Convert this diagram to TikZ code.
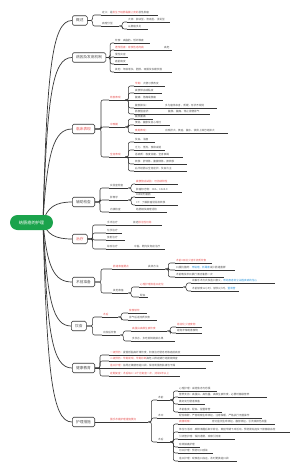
\documentclass[tikz,border=0pt]{standalone}
\usepackage{fontspec}
\setmainfont{Noto Sans CJK SC}
\usetikzlibrary{backgrounds}

\definecolor{rootgreen}{RGB}{27,163,76}
\definecolor{mapred}{RGB}{232,84,84}
\definecolor{mapblue}{RGB}{45,150,220}
\definecolor{linegray}{RGB}{55,55,55}
\definecolor{textgray}{RGB}{85,85,85}

\newcommand{\rootfont}{\fontsize{4.2}{5}\selectfont}
\newcommand{\topicfont}{\fontsize{3.7}{4.5}\selectfont}
\newcommand{\leaffont}{\fontsize{2.6}{3.1}\selectfont}
\newcommand{\redtxt}[1]{\textcolor{mapred}{#1}}
\newcommand{\bluetxt}[1]{\textcolor{mapblue}{#1}}

\begin{document}
\begin{tikzpicture}[x=1pt, y=-1pt,
    rootnode/.style={fill=rootgreen, text=white, rounded corners=7.5pt, minimum width=43pt, minimum height=15pt, inner sep=0pt, font=\rootfont},
    topic/.style={draw=linegray, fill=white, text=textgray, line width=0.6pt, rounded corners=1.5pt, anchor=west, minimum height=9.5pt, inner xsep=3.8pt, inner ysep=0pt, font=\topicfont},
    uline/.style={draw=linegray, line width=0.55pt},
    leaf/.style={anchor=south west, align=left, text=textgray, inner xsep=1pt, inner ysep=0.6pt, font=\leaffont,
        append after command={(\tikzlastnode.south west) edge[uline] (\tikzlastnode.south east)}},
    twig/.style={draw=linegray, line width=0.55pt, rounded corners=2pt},
    trunk/.style={draw=linegray, line width=0.7pt}]
    \useasboundingbox (0,0) rectangle (300,472);

    % Root
    \node[rootnode] (root) at (31.5,222.5) {结肠癌的护理};
    \coordinate (hub) at (43,222);

    % Main topics
    \node[topic] (ovw) at (72,20.5) {概述};
    \node[topic] (cause) at (72,57.5) {病因及发病机制};
    \node[topic, text=mapred] (sympt) at (72,129) {临床表现};
    \node[topic] (exam) at (72,202) {辅助检查};
    \node[topic, text=mapred] (treat) at (72,239) {治疗};
    \node[topic] (prep) at (72,282) {术前准备};
    \node[topic] (diet) at (71,326) {饮食};
    \node[topic] (edu) at (72,368) {健康教育};
    \node[topic] (care) at (72,422) {护理措施};

    % Overview
    \node[leaf, text width=55pt] (ovw1) at (101,15) {定义：是\redtxt{发生于结肠黏膜上皮的}恶性肿瘤};
    \node[leaf, text width=16pt] (ovw2) at (101,26) {病理分型};
    \node[leaf, text width=41pt] (ovw21) at (127,22) {大体：肿块型、溃疡型、浸润型};
    \node[leaf, text width=19pt] (ovw22) at (127,29) {以腺癌多见};
    \draw[twig] (ovw.east) -- ++(5,0) |- (ovw1.south west);
    \draw[twig] (ovw.east) -- ++(5,0) |- (ovw2.south west);
    \draw[twig] (ovw2.south east) -- ++(3,0) |- (ovw21.south west);
    \draw[twig] (ovw2.south east) -- ++(3,0) |- (ovw22.south west);

    % Causes
    \node[leaf, text width=34pt] (cause1) at (114,43) {饮食：高脂肪、低纤维素};
    \node[leaf, text width=32pt, text=mapred] (cause2) at (114,50) {遗传因素：家族性息肉病};
    \node[leaf, text width=7pt] (cause21) at (163,50) {高危};
    \node[leaf, text width=11.5pt] (cause3) at (114,57) {慢性炎症};
    \node[leaf, text width=11.5pt] (cause4) at (114,64) {癌前病变};
    \node[leaf, text width=56pt] (cause5) at (114,72) {其他：年龄增长、肥胖、吸烟及长期饮酒};
    \draw[twig] (cause.east) -- ++(4,0) |- (cause1.south west);
    \draw[twig] (cause.east) -- ++(4,0) |- (cause2.south west);
    \draw[twig] (cause.east) -- ++(4,0) |- (cause3.south west);
    \draw[twig] (cause.east) -- ++(4,0) |- (cause4.south west);
    \draw[twig] (cause.east) -- ++(4,0) |- (cause5.south west);
    \draw[twig] (cause2.south east) -- (cause21.south west);

    % Symptoms
    \node[leaf, text width=14pt, text=mapred] (sym1) at (109,100) {局部表现};
    \node[leaf, text width=29pt] (sym11) at (134,86) {\redtxt{早期：}大便习惯改变};
    \node[leaf, text width=26pt] (sym12) at (134,93) {粪便带血或黏液};
    \node[leaf, text width=27pt] (sym13) at (134,100) {腹痛：隐痛或胀痛};
    \node[leaf, text width=19pt] (sym14) at (134,108) {腹部肿块：};
    \node[leaf, text width=51pt] (sym141) at (164,108) {多为瘤体本身，质硬，形状不规则};
    \node[leaf, text width=20pt] (sym15) at (134,114) {肠梗阻症状：};
    \node[leaf, text width=41pt] (sym151) at (167,114) {腹胀、腹痛、停止排便排气};
    \node[leaf, text width=14pt, text=mapred] (sym2) at (109,127) {中晚期};
    \node[leaf, text width=17pt] (sym21) at (134,119) {腹胀腹痛};
    \node[leaf, text width=34pt] (sym22) at (134,125) {便秘、腹胀及恶心呕吐};
    \node[leaf, text width=19pt, text=mapred] (sym23) at (134,133) {晚期表现：};
    \node[leaf, text width=62pt] (sym231) at (164,133) {出现肝大、黄疸、腹水、锁骨上淋巴结肿大};
    \node[leaf, text width=14pt, text=mapred] (sym3) at (109,157) {全身表现};
    \node[leaf, text width=19pt] (sym31) at (134,142) {贫血、消瘦};
    \node[leaf, text width=29pt] (sym32) at (134,150) {乏力、低热、食欲减退};
    \node[leaf, text width=47pt] (sym33) at (134,157) {恶病质：极度消瘦、全身衰竭};
    \node[leaf, text width=51pt] (sym34) at (134,164) {转移：肝转移、腹膜转移、肺转移};
    \node[leaf, text width=51pt] (sym35) at (134,171) {右半结肠以全身症状、贫血为主};
    \draw[twig] (sympt.east) -- ++(6,0) |- (sym1.south west);
    \draw[twig] (sympt.east) -- ++(6,0) |- (sym2.south west);
    \draw[twig] (sympt.east) -- ++(6,0) |- (sym3.south west);
    \draw[twig] (sym1.south east) -- ++(3,0) |- (sym11.south west);
    \draw[twig] (sym1.south east) -- ++(3,0) |- (sym12.south west);
    \draw[twig] (sym1.south east) -- (sym13.south west);
    \draw[twig] (sym1.south east) -- ++(3,0) |- (sym14.south west);
    \draw[twig] (sym1.south east) -- ++(3,0) |- (sym15.south west);
    \draw[twig] (sym14.south east) -- (sym141.south west);
    \draw[twig] (sym15.south east) -- (sym151.south west);
    \draw[twig] (sym2.south east) -- ++(3,0) |- (sym21.south west);
    \draw[twig] (sym2.south east) -- ++(3,0) |- (sym22.south west);
    \draw[twig] (sym2.south east) -- ++(3,0) |- (sym23.south west);
    \draw[twig] (sym23.south east) -- (sym231.south west);
    \draw[twig] (sym3.south east) -- ++(3,0) |- (sym31.south west);
    \draw[twig] (sym3.south east) -- ++(3,0) |- (sym32.south west);
    \draw[twig] (sym3.south east) -- (sym33.south west);
    \draw[twig] (sym3.south east) -- ++(3,0) |- (sym34.south west);
    \draw[twig] (sym3.south east) -- ++(3,0) |- (sym35.south west);

    % Examinations
    \node[leaf, text width=17pt] (exam1) at (109,188) {实验室检查};
    \node[leaf, text width=41pt, text=mapred] (exam11) at (135,184) {粪便隐血试验：可持续阳性};
    \node[leaf, text width=45pt] (exam12) at (135,192) {肿瘤标志物：CEA、CA19-9};
    \node[leaf, text width=17pt] (exam2) at (109,200) {影像学};
    \node[leaf, text width=18pt] (exam21) at (135,197) {X线钡剂灌肠};
    \node[leaf, text width=41pt] (exam22) at (135,205) {CT：了解肿瘤浸润及转移};
    \node[leaf, text width=17pt] (exam3) at (109,212) {内镜检查};
    \node[leaf, text width=30pt] (exam31) at (135,212) {结肠镜及病理活检};
    \draw[twig] (exam.east) -- ++(5,0) |- (exam1.south west);
    \draw[twig] (exam.east) -- ++(5,0) |- (exam2.south west);
    \draw[twig] (exam.east) -- ++(5,0) |- (exam3.south west);
    \draw[twig] (exam1.south east) -- ++(3,0) |- (exam11.south west);
    \draw[twig] (exam1.south east) -- ++(3,0) |- (exam12.south west);
    \draw[twig] (exam2.south east) -- ++(3,0) |- (exam21.south west);
    \draw[twig] (exam2.south east) -- ++(3,0) |- (exam22.south west);
    \draw[twig] (exam3.south east) -- (exam31.south west);

    % Treatment
    \node[leaf, text width=17pt] (treat1) at (106,225) {手术治疗};
    \node[leaf, text width=28pt] (treat11) at (132,225) {首选\redtxt{根治性切除}};
    \node[leaf, text width=14pt] (treat2) at (106,233) {化学治疗};
    \node[leaf, text width=17pt] (treat3) at (106,240) {放射治疗};
    \node[leaf, text width=19pt] (treat4) at (106,249) {综合治疗};
    \node[leaf, text width=30pt] (treat41) at (133,249) {中医、靶向及免疫治疗};
    \draw[twig] (treat.east) -- ++(5,0) |- (treat1.south west);
    \draw[twig] (treat.east) -- ++(5,0) |- (treat2.south west);
    \draw[twig] (treat.east) -- ++(5,0) |- (treat3.south west);
    \draw[twig] (treat.east) -- ++(5,0) |- (treat4.south west);
    \draw[twig] (treat1.south east) -- (treat11.south west);
    \draw[twig] (treat4.south east) -- (treat41.south west);

    % Preoperative preparation
    \node[leaf, text width=24pt, text=mapred] (prep1) at (112,269) {肠道准备要点};
    \node[leaf, text width=16pt] (prep11) at (147,269) {具体方法};
    \node[leaf, text width=35pt, text=mapred] (prep111) at (175,263) {术前3日进少渣半流质饮食};
    \node[leaf, text width=58pt] (prep112) at (175,270) {口服抗菌药：\bluetxt{甲硝唑、新霉素}减少肠道菌群};
    \node[leaf, text width=47pt] (prep113) at (175,277) {术前晚及术日晨行清洁灌肠一次};
    \node[leaf, text width=14pt] (prep2) at (112,293) {其他准备};
    \node[leaf, text width=42pt, text=mapred] (prep21) at (139,287) {心理护理及造口定位};
    \node[leaf, text width=82pt] (prep211) at (191,283) {讲解手术方式及造口意义，\bluetxt{帮助患者树立战胜疾病的信心}};
    \node[leaf, text width=46pt] (prep212) at (191,291) {术前禁食12小时、禁饮4小时，\bluetxt{置胃管}};
    \node[leaf, text width=7pt] (prep22) at (139,297) {配血};
    \draw[twig] (prep.east) -- ++(6,0) |- (prep1.south west);
    \draw[twig] (prep.east) -- ++(6,0) |- (prep2.south west);
    \draw[twig] (prep1.south east) -- (prep11.south west);
    \draw[twig] (prep11.south east) -- ++(3,0) |- (prep111.south west);
    \draw[twig] (prep11.south east) -- ++(3,0) |- (prep112.south west);
    \draw[twig] (prep11.south east) -- ++(3,0) |- (prep113.south west);
    \draw[twig] (prep2.south east) -- ++(3,0) |- (prep21.south west);
    \draw[twig] (prep2.south east) -- ++(3,0) |- (prep22.south west);
    \draw[twig] (prep21.south east) -- ++(3,0) |- (prep211.south west);
    \draw[twig] (prep21.south east) -- ++(3,0) |- (prep212.south west);

    % Diet
    \node[leaf, text width=14pt, text=mapred] (diet1) at (102,317) {术后};
    \node[leaf, text width=17pt, text=mapred] (diet11) at (128,313) {禁食禁饮};
    \node[leaf, text width=27pt] (diet12) at (128,320) {排气后进流质饮食};
    \node[leaf, text width=16pt] (diet2) at (102,335) {出院后饮食};
    \node[leaf, text width=34pt, text=mapred] (diet21) at (131,331) {高蛋白高维生素饮食};
    \node[leaf, text width=24pt, text=mapred] (diet211) at (176,327) {易消化少渣食物};
    \node[leaf, text width=24pt] (diet212) at (176,333) {避免辛辣刺激食物};
    \node[leaf, text width=42pt] (diet22) at (131,341) {多饮水，多吃新鲜蔬菜水果};
    \draw[twig] (diet.east) -- ++(6,0) |- (diet1.south west);
    \draw[twig] (diet.east) -- ++(6,0) |- (diet2.south west);
    \draw[twig] (diet1.south east) -- ++(3,0) |- (diet11.south west);
    \draw[twig] (diet1.south east) -- ++(3,0) |- (diet12.south west);
    \draw[twig] (diet2.south east) -- ++(3,0) |- (diet21.south west);
    \draw[twig] (diet2.south east) -- ++(3,0) |- (diet22.south west);
    \draw[twig] (diet21.south east) -- ++(3,0) |- (diet211.south west);
    \draw[twig] (diet21.south east) -- ++(3,0) |- (diet212.south west);

    % Health education
    \node[leaf, text width=109pt] (edu1) at (109,355) {\redtxt{一级预防：}提倡低脂高纤维饮食，积极治疗肠息肉等癌前病变};
    \node[leaf, text width=102pt] (edu2) at (109,361) {\redtxt{二级预防：早期发现、早期诊断}高危人群定期行结肠镜筛查};
    \node[leaf, text width=95pt] (edu3) at (109,368) {\redtxt{造口护理：}指导正确使用造口袋，保持周围皮肤清洁干燥};
    \node[leaf, text width=69pt, text=mapred] (edu4) at (109,376) {定期复查：术后每3～6个月复查一次，持续2年以上};
    \draw[twig] (edu.east) -- ++(5,0) |- (edu1.south west);
    \draw[twig] (edu.east) -- ++(5,0) |- (edu2.south west);
    \draw[twig] (edu.east) -- (edu3.south west);
    \draw[twig] (edu.east) -- ++(5,0) |- (edu4.south west);

    % Nursing care
    \node[leaf, text width=37pt, text=mapred] (care1) at (109,422) {围手术期护理措施要点};
    \node[leaf, text width=11pt] (care11) at (157,400) {术前};
    \node[leaf, text width=37pt] (care111) at (178,391) {心理护理：减轻焦虑与恐惧};
    \node[leaf, text width=87pt] (care112) at (178,397) {营养支持：高蛋白、高热量、高维生素饮食，必要时静脉营养};
    \node[leaf, text width=25pt] (care113) at (178,404) {做好充分肠道准备};
    \node[leaf, text width=42pt] (care114) at (178,412) {术前备皮、配血、留置胃管};
    \node[leaf, text width=11pt] (care12) at (157,418) {术中};
    \node[leaf, text width=82pt] (care121) at (178,418) {配合麻醉，严密观察生命体征，注意保暖，严格执行无菌操作};
    \node[leaf, text width=11pt] (care13) at (157,442) {术后};
    \node[leaf, text width=25pt, text=mapred] (care131) at (178,424) {病情观察：};
    \node[leaf, text width=62pt] (care1311) at (211,424) {密切监测生命体征、腹部体征、引流液颜色及量};
    \node[leaf, text width=110pt] (care132) at (178,432) {体位与活动：麻醉清醒后取半卧位，鼓励早期下床活动，预防肠粘连及下肢静脉血栓};
    \node[leaf, text width=55pt] (care133) at (178,439) {引流管护理：保持通畅，观察引流液};
    \node[leaf, text width=20pt] (care134) at (178,447) {有效镇痛护理};
    \node[leaf, text width=33pt] (care135) at (178,453) {切口护理：预防切口感染};
    \node[leaf, text width=57pt] (care136) at (178,461) {造口护理：观察造口血运，及时更换造口袋};
    \draw[twig] (care.east) -- (care1.south west);
    \draw[twig] (care1.south east) -- ++(3,0) |- (care11.south west);
    \draw[twig] (care1.south east) -- ++(3,0) |- (care12.south west);
    \draw[twig] (care1.south east) -- ++(3,0) |- (care13.south west);
    \draw[twig] (care11.south east) -- ++(3,0) |- (care111.south west);
    \draw[twig] (care11.south east) -- ++(3,0) |- (care112.south west);
    \draw[twig] (care11.south east) -- ++(3,0) |- (care113.south west);
    \draw[twig] (care11.south east) -- ++(3,0) |- (care114.south west);
    \draw[twig] (care12.south east) -- (care121.south west);
    \draw[twig] (care13.south east) -- ++(3,0) |- (care131.south west);
    \draw[twig] (care13.south east) -- ++(3,0) |- (care132.south west);
    \draw[twig] (care13.south east) -- ++(3,0) |- (care133.south west);
    \draw[twig] (care13.south east) -- ++(3,0) |- (care134.south west);
    \draw[twig] (care13.south east) -- ++(3,0) |- (care135.south west);
    \draw[twig] (care13.south east) -- ++(3,0) |- (care136.south west);
    \draw[twig] (care131.south east) -- (care1311.south west);

    % Trunk curves from the root
    \begin{scope}[on background layer]
        \fill[white] (0,0) rectangle (300,472);
        \draw[trunk] (hub) .. controls +(4,-152) and +(-20,0) .. (ovw.west);
        \draw[trunk] (hub) .. controls +(4,-123) and +(-20,0) .. (cause.west);
        \draw[trunk] (hub) .. controls +(4,-70) and +(-18,0) .. (sympt.west);
        \draw[trunk] (hub) .. controls +(4,-15) and +(-16,0) .. (exam.west);
        \draw[trunk] (hub) .. controls +(4,13) and +(-16,0) .. (treat.west);
        \draw[trunk] (hub) .. controls +(4,45) and +(-18,0) .. (prep.west);
        \draw[trunk] (hub) .. controls +(4,78) and +(-18,0) .. (diet.west);
        \draw[trunk] (hub) .. controls +(4,110) and +(-20,0) .. (edu.west);
        \draw[trunk] (hub) .. controls +(4,150) and +(-20,0) .. (care.west);
    \end{scope}
\end{tikzpicture}
\end{document}
